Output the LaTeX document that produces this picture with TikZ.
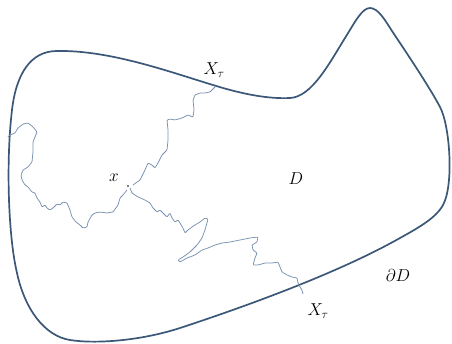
\documentclass[tikz,border=0pt]{standalone}
\usepackage{amsmath}
\begin{document}
\begin{tikzpicture}[x=1pt,y=-1pt,
  bnd/.style={draw=bndc,line width=1.7pt,line join=round},
  walk/.style={draw=walkc,line width=0.75pt,line join=round,rounded corners=0.8pt},
  lbl/.style={font=\fontsize{17}{19}\selectfont,inner sep=0pt}]
\definecolor{bndc}{HTML}{3B5878}
\definecolor{walkc}{HTML}{7990B0}
\useasboundingbox (0,0) rectangle (452,343);
% boundary
\draw[bnd] (57,51) .. controls (110,50) and (170,72) .. (213,85)
 .. controls (245,95) and (270,99) .. (290,98)
 .. controls (312,97) and (330,62) .. (345,38)
 .. controls (355,22) and (362,8) .. (370,8)
 .. controls (378,8) and (385,20) .. (392,31)
 .. controls (410,58) and (430,88) .. (440,107)
 .. controls (450,126) and (454,185) .. (443,205)
 .. controls (436,218) and (418,228) .. (400,238)
 .. controls (340,272) and (250,305) .. (180,328)
 .. controls (140,341) and (95,344) .. (70,340)
 .. controls (45,336) and (25,310) .. (17,273)
 .. controls (8,235) and (6,160) .. (12,110)
 .. controls (16,75) and (30,51) .. (57,51) -- cycle;
% start point
\coordinate (x0) at (128,186);
\fill[black] (x0) circle (0.8);
% branch to top
\draw[walk] (133,185) -- (140,180) -- (145,170) -- (148,163) -- (152,165) -- (155,168)
 -- (158,163) -- (162,155) -- (167,150) -- (168,140) -- (168,130) -- (167,120)
 -- (170,119) -- (175,120) -- (182,118) -- (188,115) -- (193,117) -- (194,110)
 -- (193,100) -- (195,95) -- (200,93) -- (205,93) -- (210,92) -- (213,89) -- (215,87);
% branch to left
\draw[walk] (127,190) -- (123,195) -- (120,198) -- (118,205) -- (113,212) -- (107,213)
 -- (100,212) -- (95,213) -- (92,215) -- (88,222) -- (87,227) -- (83,228) -- (80,225)
 -- (76,222) -- (72,217) -- (70,210) -- (67,203) -- (63,202) -- (60,205) -- (57,204)
 -- (53,208) -- (50,210) -- (47,208) -- (45,205) -- (42,207) -- (40,202) -- (37,198)
 -- (35,193) -- (32,192) -- (28,187) -- (25,185) -- (22,180) -- (21,175) -- (23,170)
 -- (28,167) -- (32,162) -- (33,152) -- (33,142) -- (35,137) -- (37,132) -- (33,127)
 -- (28,123) -- (23,124) -- (18,128) -- (15,133) -- (10,135) -- (8,137);
% branch to bottom
\draw[walk] (130,188) -- (132,193) -- (138,197) -- (145,200) -- (150,203) -- (153,208)
 -- (157,212) -- (160,210) -- (163,213) -- (167,217) -- (170,213) -- (172,218)
 -- (175,222) -- (178,220) -- (180,223) -- (183,228) -- (185,233) -- (188,230)
 -- (192,227) -- (195,225) -- (200,222) -- (205,218) -- (208,219) -- (205,230)
 -- (202,238) -- (197,245) -- (190,252) -- (183,257) -- (178,260) -- (180,262)
 -- (187,258) -- (195,255) -- (202,250) -- (208,248) -- (215,245) -- (222,243)
 -- (230,242) -- (240,240) -- (250,238) -- (258,237) -- (257,242) -- (252,245)
 -- (253,250) -- (257,253) -- (255,258) -- (253,265) -- (258,265) -- (265,263)
 -- (272,263) -- (278,262) -- (280,267) -- (282,272) -- (287,275) -- (292,277)
 -- (297,278) -- (298,283) -- (300,287) -- (302,290) -- (303,294);
% labels
\node[lbl] (xt1) at (214,70) {$X_\tau$};
\node[lbl] (xl) at (114,178) {$x$};
\node[lbl] (dl) at (296,179) {$D$};
\node[lbl] (dd) at (398,275) {$\partial D$};
\node[lbl] (xt2) at (318,311) {$X_\tau$};
\end{tikzpicture}
\end{document}
